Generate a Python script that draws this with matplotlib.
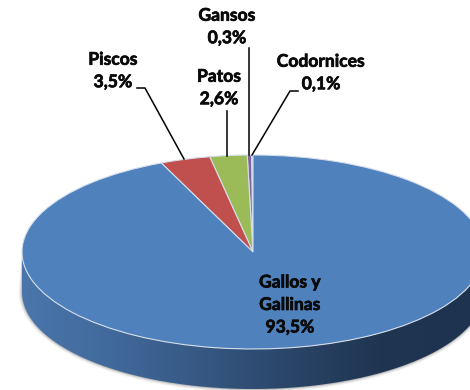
import numpy as np
import matplotlib
matplotlib.use('Agg')
import matplotlib.pyplot as plt
import matplotlib.patheffects as pe
from matplotlib.patches import PathPatch
from matplotlib.path import Path
from matplotlib.colors import LinearSegmentedColormap

# Data, counter-clockwise from the top of the pie
labels = ['Codornices', 'Gansos', 'Patos', 'Piscos', 'Gallos y\nGallinas']
values = [0.1, 0.3, 2.6, 3.5, 93.5]
colors = ['#A9C4E4', '#8064A2', '#9BBB59', '#C0504D', '#4F81BD']

# Pie geometry in image pixels
cx, cy = 253, 252
rx, ry = 231, 97
depth = 40
W, H = 470, 390

fig = plt.figure(figsize=(W / 100, H / 100), dpi=100, facecolor='white')

# back layer in pixel coordinates: shadow and 3D side
back = fig.add_axes([0, 0, 1, 1])
back.set_xlim(0, W)
back.set_ylim(H, 0)
back.axis('off')

t = np.linspace(0, np.pi, 200)
arc_x = cx + rx * np.cos(t)
arc_y = cy + ry * np.sin(t)
side_x = np.r_[arc_x, arc_x[::-1]]
side_y = np.r_[arc_y, arc_y[::-1] + depth]

# soft edge round the side
for grow, a in [(3.5, 0.05), (2.5, 0.08), (1.5, 0.12), (0.7, 0.18)]:
    back.fill(np.r_[arc_x + grow * np.cos(t), arc_x[::-1]],
              np.r_[arc_y + depth + grow * np.sin(t), arc_y[::-1]],
              color='#404040', alpha=a, lw=0)

cmap = LinearSegmentedColormap.from_list(
    'side', ['#4A76AC', '#41699B', '#365883', '#2A4568', '#1F3551', '#1E3350'])
im = back.imshow(np.linspace(0, 1, 256).reshape(1, -1), cmap=cmap, aspect='auto',
                 extent=[cx - rx, W, H, cy - 10], zorder=3)
clip = PathPatch(Path(np.c_[side_x, side_y]), transform=back.transData, fc='none', ec='none')
back.add_patch(clip)
im.set_clip_path(clip)
back.set_xlim(0, W)
back.set_ylim(H, 0)

# pie top, y data is stretched so the circle comes out as the ellipse
scale = rx / ry
pie_ax = fig.add_axes([0, 0, 1, 1])
pie_ax.patch.set_alpha(0)
pie_ax.pie(values, colors=colors, startangle=90, counterclock=True, center=(cx, (H - cy) * scale),
           radius=rx, wedgeprops={'edgecolor': '#D5DEEA', 'linewidth': 0.8}, frame=False)
pie_ax.set_aspect('auto')
pie_ax.set_xlim(0, W)
pie_ax.set_ylim(0, H * scale)
pie_ax.axis('off')

# labels and leader lines on top, pixel coordinates again
top = fig.add_axes([0, 0, 1, 1])
top.patch.set_alpha(0)
top.set_xlim(0, W)
top.set_ylim(H, 0)
top.axis('off')

label_pos = [(321, 73), (227, 27), (219, 88), (113, 71), (290, 305)]
for name, val, (x, y) in zip(labels, values, label_pos):
    top.text(x, y, name + '\n' + f'{val:.1f}%'.replace('.', ','), ha='center', va='center',
             fontfamily='Lato', fontweight='bold', fontsize=12.6, color='#0A0A0A',
             linespacing=1.5,
             path_effects=[pe.withStroke(linewidth=0.5, foreground='#0A0A0A')])

leaders = [
    ([298, 290, 252], [91, 91, 155]),
    ([249, 249], [48, 155]),
    ([227, 227], [111, 156]),
    ([137, 145, 184], [88, 88, 159]),
]
for xs, ys in leaders:
    top.plot(xs, ys, color='black', lw=1.1, solid_joinstyle='miter')

fig.savefig('out.png', dpi=100)
